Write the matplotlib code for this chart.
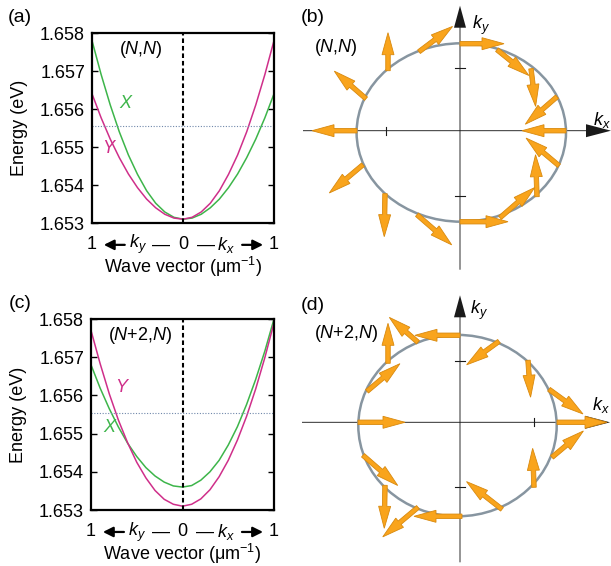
import matplotlib
matplotlib.use("Agg")
import matplotlib.pyplot as plt
import numpy as np
from matplotlib.patches import Ellipse, FancyArrow
from matplotlib.ticker import FormatStrFormatter

plt.rcParams['font.family'] = ['Liberation Sans', 'DejaVu Sans']
plt.rcParams['mathtext.fontset'] = 'custom'
plt.rcParams['mathtext.rm'] = 'Liberation Sans'
plt.rcParams['mathtext.it'] = 'Liberation Sans:italic'
plt.rcParams['mathtext.bf'] = 'Liberation Sans:bold'

# wave vector: negative half is the k_y branch, positive half the k_x branch
k = [-1.0, -0.9, -0.8, -0.7, -0.6, -0.5, -0.4, -0.3, -0.2, -0.1, 0.0,
     0.1, 0.2, 0.3, 0.4, 0.5, 0.6, 0.7, 0.8, 0.9, 1.0]

# (N,N) dispersion, eV
e_x_a = [1.6578, 1.65691, 1.65611, 1.65540, 1.65479, 1.65428, 1.65385, 1.65352, 1.65329, 1.65315, 1.6531,
         1.65313, 1.65323, 1.65340, 1.65363, 1.65393, 1.65429, 1.65472, 1.65521, 1.65577, 1.6564]
e_y_a = [1.6564, 1.65577, 1.65521, 1.65472, 1.65429, 1.65393, 1.65363, 1.65340, 1.65323, 1.65313, 1.6531,
         1.65315, 1.65329, 1.65352, 1.65385, 1.65428, 1.65479, 1.65540, 1.65611, 1.65691, 1.6578]

# (N+2,N) dispersion, eV
e_x_c = [1.6568, 1.65619, 1.65565, 1.65517, 1.65475, 1.65440, 1.65411, 1.65389, 1.65373, 1.65363, 1.6536,
         1.65364, 1.65378, 1.65400, 1.65430, 1.65470, 1.65518, 1.65576, 1.65642, 1.65716, 1.6580]
e_y_c = [1.6577, 1.65683, 1.65604, 1.65535, 1.65476, 1.65425, 1.65384, 1.65351, 1.65328, 1.65315, 1.6531,
         1.65315, 1.65329, 1.65353, 1.65387, 1.65430, 1.65483, 1.65545, 1.65617, 1.65699, 1.6579]

e_cut = 1.65555
e_ticks = [1.653, 1.654, 1.655, 1.656, 1.657, 1.658]

# polarization textures on the iso-energy contour
bx_b = [0.0, 0.37, 0.71, 0.97, 1.06, 0.99, 0.77, 0.40, 0.0, -0.43, -0.75, -0.97, -1.03, -0.94, -0.72, -0.41]
by_b = [0.87, 0.81, 0.62, 0.34, 0.0, -0.35, -0.66, -0.87, -0.91, -0.84, -0.63, -0.34, 0.0, 0.32, 0.60, 0.79]
ang_b = [0, -39, -83, -139, 180, 140, 92, 41, 0, -41, -91, -140, 180, 139, 90, 37]
len_b = [0.44, 0.41, 0.38, 0.42, 0.44, 0.43, 0.42, 0.46, 0.48, 0.46, 0.43, 0.44, 0.45, 0.42, 0.38, 0.42]

bx_d = [0.0, 0.39, 0.68, 0.89, 0.97, 0.92, 0.74, 0.42, 0.02, -0.42, -0.75, -0.97, -1.02, -0.93, -0.72, -0.42]
by_d = [0.87, 0.81, 0.62, 0.33, 0.0, -0.35, -0.65, -0.87, -0.94, -0.85, -0.63, -0.33, 0.0, 0.31, 0.59, 0.80]
ang_d = [180, -144, -86, -36, 0, 40, 92, 142, 180, -140, -91, -41, 0, 40, 90, 139]
len_d = [0.45, 0.40, 0.37, 0.42, 0.50, 0.41, 0.39, 0.45, 0.48, 0.46, 0.43, 0.46, 0.47, 0.43, 0.40, 0.38]

# contour (center x, center y, half width, half height)
ell_b = (0.013, -0.018, 1.047, 0.892)
ell_d = (-0.025, -0.033, 0.992, 0.907)

green = '#3db54a'
magenta = '#cf2f8a'
orange = '#f9a41c'
orange_dark = '#d8890e'

fig = plt.figure(figsize=(6.11, 5.66), dpi=100)


def energy_panel(rect, e_x, e_y, mode, xlab_pos, ylab_pos):
    ax = fig.add_axes(rect)
    ax.plot(k, e_x, color=green, lw=1.1)
    ax.plot(k, e_y, color=magenta, lw=1.1)
    ax.axhline(e_cut, color='#7088aa', lw=0.8, ls=(0, (1, 1.5)))
    ax.axvline(0, color='k', lw=1.5, ls=(0, (2.2, 1.4)))
    ax.set_xlim(-1, 1)
    ax.set_ylim(1.653, 1.658)
    ax.set_yticks(e_ticks)
    ax.yaxis.set_major_formatter(FormatStrFormatter('%.3f'))
    ax.tick_params(axis='y', direction='in', length=4, width=1, right=True,
                   labelsize=13, pad=5)
    ax.set_xticks([])
    for s in ax.spines.values():
        s.set_linewidth(1.6)
    ax.set_ylabel('Energy (eV)', fontsize=13)
    ax.yaxis.set_label_coords(-0.35, 0.5)

    # "1 <- ky -- 0 -- kx -> 1" row under the axis
    tr = ax.get_xaxis_transform()
    row = -0.115
    for x, s in [(-1, '1'), (0, '0'), (1, '1'), (-0.5, '$k_y$'), (0.47, '$k_x$'),
                 (-0.24, '\u2014'), (0.25, '\u2014')]:
        ax.text(x, row, s, transform=tr, ha='center', va='center', fontsize=13, clip_on=False)
    ax.annotate('', xy=(-0.87, row), xytext=(-0.64, row), xycoords=tr, textcoords=tr,
                arrowprops=dict(arrowstyle='-|>,head_length=0.6,head_width=0.3', lw=1.6,
                                color='k', shrinkA=0, shrinkB=0))
    ax.annotate('', xy=(0.88, row), xytext=(0.65, row), xycoords=tr, textcoords=tr,
                arrowprops=dict(arrowstyle='-|>,head_length=0.6,head_width=0.3', lw=1.6,
                                color='k', shrinkA=0, shrinkB=0))
    ax.text(0, -0.23, r'Wave vector (μm$^{-1}$)', transform=tr, ha='center', va='center', fontsize=13)

    ax.text(-0.46, 1.65757, mode, ha='center', va='center', fontsize=13)
    ax.text(xlab_pos[0], xlab_pos[1], 'X', color=green, style='italic', fontsize=13,
            ha='center', va='center')
    ax.text(ylab_pos[0], ylab_pos[1], 'Y', color=magenta, style='italic', fontsize=13,
            ha='center', va='center')
    return ax


def texture_panel(rect, ylim, bx, by, ang, ln, ell, hspan, vspan, xt, yt, mode, mode_pos, kx_pos, ky_pos):
    ax = fig.add_axes(rect)
    ax.set_xlim(-1.60, 1.51)
    ax.set_ylim(*ylim)
    ax.axis('off')
    # coordinate axes with arrowheads
    ax.add_patch(FancyArrow(hspan[0], 0, hspan[1] - hspan[0], 0, width=0.009, head_width=0.13,
                            head_length=0.25, length_includes_head=True, color='#1a1a1a', lw=0))
    ax.add_patch(FancyArrow(0, vspan[0], 0, vspan[1] - vspan[0], width=0.009, head_width=0.12,
                            head_length=0.22, length_includes_head=True, color='#1a1a1a', lw=0))
    for x in xt:
        ax.plot([x, x], [-0.04, 0.04], color='#1a1a1a', lw=0.8)
    for y in yt:
        ax.plot([-0.05, 0.05], [y, y], color='#1a1a1a', lw=0.8)
    ax.add_patch(Ellipse((ell[0], ell[1]), 2 * ell[2], 2 * ell[3], fill=False,
                         ec='#8795a0', lw=1.8, zorder=3))
    for x, y, a, L in zip(bx, by, ang, ln):
        dx = L * np.cos(np.radians(a))
        dy = L * np.sin(np.radians(a))
        ax.add_patch(FancyArrow(x, y, dx, dy, width=0.045, head_width=0.12, head_length=0.22,
                                length_includes_head=True, fc=orange, ec=orange_dark, lw=0.6, zorder=5))
    ax.text(kx_pos[0], kx_pos[1], '$k_x$', fontsize=13, ha='center', va='center')
    ax.text(ky_pos[0], ky_pos[1], '$k_y$', fontsize=13, ha='center', va='center')
    ax.text(mode_pos[0], mode_pos[1], mode, fontsize=13, ha='center', va='center')
    return ax


energy_panel([92 / 611, 1 - 223 / 566, 182 / 611, 190 / 566], e_x_a, e_y_a, '($N$,$N$)',
             (-0.63, 1.65614), (-0.82, 1.65496))
energy_panel([91 / 611, 1 - 510 / 566, 183 / 611, 191 / 566], e_x_c, e_y_c, '($N$+2,$N$)',
             (-0.80, 1.65517), (-0.67, 1.65621))

texture_panel([300 / 611, 1 - 280 / 566, 311 / 611, 280 / 566], (-1.493, 1.307),
              bx_b, by_b, ang_b, len_b, ell_b, (-1.57, 1.51), (-1.39, 1.25),
              [-0.74], [0.623, -0.653], '($N$,$N$)', (-1.24, 0.837), (1.42, 0.107), (0.21, 1.057))
texture_panel([300 / 611, 0, 311 / 611, 286 / 566], (-1.437, 1.423),
              bx_d, by_d, ang_d, len_d, ell_d, (-1.58, 1.50), (-1.40, 1.27),
              [0.74], [0.617, -0.643], '($N$+2,$N$)', (-1.135, 0.887), (1.41, 0.177), (0.19, 1.117))

for lab, x, y in [('(a)', 20, 17), ('(b)', 313, 18), ('(c)', 20, 303), ('(d)', 313, 305)]:
    fig.text(x / 611, 1 - y / 566, lab, fontsize=14, ha='center', va='center')

fig.savefig('out.png', dpi=100)
